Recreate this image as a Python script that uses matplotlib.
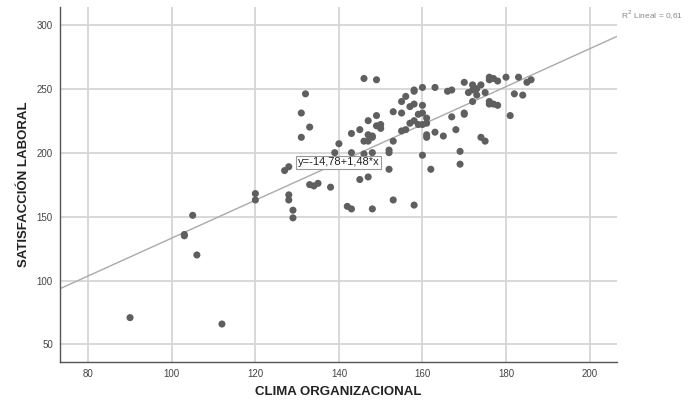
import matplotlib
matplotlib.use("Agg")
import matplotlib.pyplot as plt
import numpy as np

# clima organizacional (x) vs satisfaccion laboral (y)
clima = [90, 112, 103, 103, 105, 106, 120, 120, 127, 128, 128, 128, 129, 129,
         131, 131, 132, 133, 133, 134, 135, 138, 139, 140, 142, 143, 143, 143,
         145, 145, 146, 146, 146, 147, 147, 147, 147, 147, 148, 148, 148, 148,
         149, 149, 149, 150, 150, 152, 152, 152, 153, 153, 153, 155, 155, 155,
         156, 156, 157, 157, 158, 158, 158, 158, 158, 159, 159, 160, 160, 160,
         160, 160, 161, 161, 161, 161, 162, 163, 163, 165, 166, 167, 167, 168,
         169, 169, 170, 170, 170, 171, 172, 172, 172, 173, 173, 174, 174, 175,
         175, 176, 176, 176, 176, 177, 177, 178, 178, 180, 181, 182, 183, 184,
         185, 186]
satisfaccion = [71, 66, 136, 135, 151, 120, 168, 163, 186, 189, 167, 163, 155, 149,
                231, 212, 246, 220, 175, 174, 176, 173, 200, 207, 158, 156, 215, 200,
                179, 218, 258, 199, 209, 225, 214, 209, 192, 181, 156, 213, 212, 200,
                257, 229, 221, 222, 219, 202, 200, 187, 232, 209, 163, 240, 231, 217,
                244, 218, 236, 223, 249, 248, 238, 225, 159, 230, 222, 251, 237, 231,
                222, 198, 227, 223, 214, 212, 187, 251, 216, 213, 248, 249, 228, 218,
                201, 191, 255, 231, 230, 247, 253, 249, 240, 250, 245, 253, 212, 247,
                209, 259, 257, 240, 238, 258, 238, 256, 237, 259, 229, 246, 259, 245,
                255, 257]

intercepto = -14.78
pendiente = 1.48
r2_texto = "R$^2$ Lineal = 0,61"
ecuacion = "y=-14,78+1,48*x"

x_ticks = [80, 100, 120, 140, 160, 180, 200]
y_ticks = [50, 100, 150, 200, 250, 300]

plt.rcParams['font.family'] = ['Liberation Sans Narrow', 'Liberation Sans', 'DejaVu Sans']

fig = plt.figure(figsize=(6.88, 4.04), dpi=100)
ax = fig.add_axes([0.087, 0.103, 0.81, 0.88])

ax.set_xlim(73.2, 206.6)
ax.set_ylim(36, 314)
ax.set_xticks(x_ticks)
ax.set_yticks(y_ticks)
ax.grid(True, color="#d6d6d6", linewidth=1.3)
ax.set_axisbelow(True)

for s in ["top", "right"]:
    ax.spines[s].set_visible(False)
for s in ["left", "bottom"]:
    ax.spines[s].set_color("#555555")
    ax.spines[s].set_linewidth(1.0)

ax.tick_params(length=0, labelsize=7, colors="#444444", pad=5)

# linea de ajuste
xl = np.array(ax.get_xlim())
ax.plot(xl, intercepto + pendiente * xl, color="#aaaaaa", linewidth=1.0, zorder=2)

ax.scatter(clima, satisfaccion, s=26, color="#5f5f5f", edgecolors="none", zorder=3)

xe = 140
ax.text(xe, intercepto + pendiente * xe, ecuacion, ha="center", va="center",
        fontsize=8, color="#222222", zorder=4,
        bbox=dict(boxstyle="square,pad=0.15", facecolor="white", edgecolor="#999999", linewidth=0.8))

fig.text(0.902, 0.963, r2_texto, fontsize=6, color="#888888", ha="left", va="center")

ax.set_xlabel("CLIMA ORGANIZACIONAL", fontsize=9.5, fontweight="bold", color="#222222", labelpad=5)
ax.set_ylabel("SATISFACCIÓN LABORAL", fontsize=9.5, fontweight="bold", color="#222222", labelpad=5)

fig.savefig("out.png", dpi=100)
